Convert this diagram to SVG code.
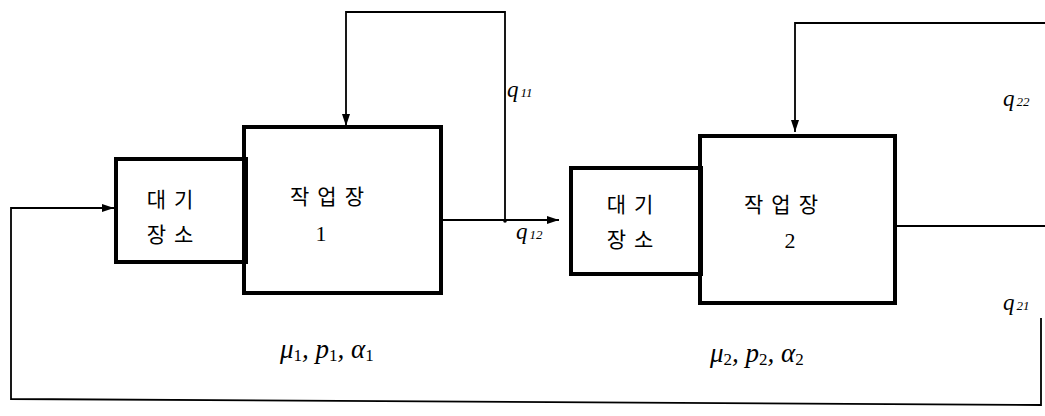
<svg xmlns="http://www.w3.org/2000/svg" width="1045" height="416" viewBox="0 0 1045 416">
<style>
.box{fill:none;stroke:#000;stroke-width:4}
.ln{fill:none;stroke:#000;stroke-width:1.8}
.kr{font-family:"Noto Sans CJK KR","Noto Sans",sans-serif;font-size:21px;fill:#000;letter-spacing:8px}
.num{font-family:"Liberation Serif",serif;font-size:22px;fill:#000}
.q{font-family:"Liberation Serif",serif;font-style:italic;font-size:23px;fill:#000}
.qs{font-size:13px}
.par{font-family:"Liberation Serif",serif;font-style:italic;font-size:27px;fill:#000}
.sub{font-style:normal;font-size:17px}
</style>
<defs>
<marker id="ah" viewBox="0 0 12 8" refX="12" refY="4" markerWidth="12" markerHeight="8" markerUnits="userSpaceOnUse" orient="auto">
<path d="M0,0 L12,4 L0,8 z" fill="#000"/>
</marker>
</defs>
<g id="connectors">
<path class="ln" d="M505,221 V12 H346 V126" marker-end="url(#ah)"/>
<path class="ln" d="M441,220 H559" marker-end="url(#ah)"/>
<path class="ln" d="M1045,23 H795 V132" marker-end="url(#ah)"/>
<path class="ln" d="M895,226 H1045"/>
<path class="ln" d="M1041,318 V405 L11,399 V208 H114" marker-end="url(#ah)"/>
<circle cx="505" cy="221" r="1.8" fill="#000"/>
</g>
<g id="queue1">
<rect class="box" x="116" y="159" width="130" height="103"/>
<text class="kr" x="174" y="207" text-anchor="middle">대기</text>
<text class="kr" x="174" y="242" text-anchor="middle">장소</text>
</g>
<g id="station1">
<rect class="box" x="244" y="127" width="197" height="166"/>
<text class="kr" x="331" y="204" text-anchor="middle">작업장</text>
<text class="num" x="321" y="241" text-anchor="middle">1</text>
</g>
<g id="queue2">
<rect class="box" x="571" y="168" width="130" height="106"/>
<text class="kr" x="634" y="212" text-anchor="middle">대기</text>
<text class="kr" x="634" y="247" text-anchor="middle">장소</text>
</g>
<g id="station2">
<rect class="box" x="700" y="136" width="195" height="167"/>
<text class="kr" x="785" y="212" text-anchor="middle">작업장</text>
<text class="num" x="790" y="248" text-anchor="middle">2</text>
</g>
<g id="labels">
<text class="q" x="507" y="97">q<tspan class="qs" dx="2">11</tspan></text>
<text class="q" x="516" y="239">q<tspan class="qs" dx="2">12</tspan></text>
<text class="q" x="1003" y="106">q<tspan class="qs" dx="2">22</tspan></text>
<text class="q" x="1003" y="310">q<tspan class="qs" dx="2">21</tspan></text>
<text class="par" x="280" y="358">μ<tspan class="sub" dy="3">1</tspan><tspan dy="-3">, p</tspan><tspan class="sub" dy="3">1</tspan><tspan dy="-3">, α</tspan><tspan class="sub" dy="3">1</tspan></text>
<text class="par" x="710" y="362">μ<tspan class="sub" dy="3">2</tspan><tspan dy="-3">, p</tspan><tspan class="sub" dy="3">2</tspan><tspan dy="-3">, α</tspan><tspan class="sub" dy="3">2</tspan></text>
</g>
</svg>
